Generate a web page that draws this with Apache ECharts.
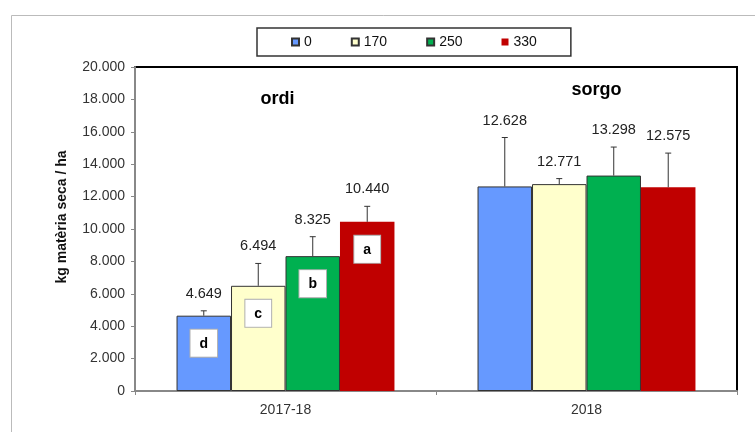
<!DOCTYPE html>
<html>
<head>
<meta charset="utf-8">
<script src="https://cdn.jsdelivr.net/npm/echarts@6/dist/echarts.min.js"></script>
<style>html,body{margin:0;padding:0;background:#fff;}#c{width:755px;height:432px;}</style>
</head>
<body>
<div id="c"></div>
<script>
var categories = ['2017-18', '2018'];
var seriesNames = ['0', '170', '250', '330'];
var values0 = [4649, 12628];
var values170 = [6494, 12771];
var values250 = [8325, 13298];
var values330 = [10440, 12575];
var err0 = [300, 3020];
var err170 = [1380, 340];
var err250 = [1200, 1760];
var err330 = [960, 2110];
var letters0 = ['d', ''];
var letters170 = ['c', ''];
var letters250 = ['b', ''];
var letters330 = ['a', ''];
var cropTitles = ['ordi', 'sorgo'];
var yTicks = [0, 2000, 4000, 6000, 8000, 10000, 12000, 14000, 16000, 18000, 20000];

var colors = ['#6699FF', '#FFFFCC', '#00B050', '#C00000'];
var borders = ['#333', '#333', '#333', 'rgba(0,0,0,0)'];
var allValues = [values0, values170, values250, values330];
var allErr = [err0, err170, err250, err330];
var allLetters = [letters0, letters170, letters250, letters330];
var GAP = 0.276;
var FONT = '"Liberation Sans", Arial, sans-serif';

function fmt(v) {
  return String(v).replace(/\B(?=(\d{3})+(?!\d))/g, '.');
}

var series = [];
for (var i = 0; i < 4; i++) {
  (function (i) {
    series.push({
      name: seriesNames[i],
      type: 'bar',
      barGap: '0%',
      barCategoryGap: (GAP * 100) + '%',
      itemStyle: { color: colors[i], borderColor: borders[i], borderWidth: i === 3 ? 0 : 1 },
      data: allValues[i].map(function (v, k) {
        var L = allLetters[i][k];
        return {
          value: v,
          label: {
            show: !!L,
            position: 'insideTop',
            distance: 14,
            formatter: L,
            backgroundColor: '#fff',
            borderColor: '#b0b0b0',
            borderWidth: 1,
            padding: [7, 9, 6, 9],
            fontFamily: FONT,
            fontWeight: 'bold',
            fontSize: 14,
            color: '#000'
          }
        };
      })
    });
  })(i);
}

var errData = [];
for (var s = 0; s < 4; s++) {
  for (var c = 0; c < categories.length; c++) {
    errData.push([c, s, allValues[s][c], allErr[s][c]]);
  }
}

series.push({
  type: 'custom',
  z: 5,
  silent: true,
  encode: { x: 0, y: 2 },
  data: errData,
  renderItem: function (params, api) {
    var c = api.value(0), s = api.value(1), v = api.value(2), e = api.value(3);
    var band = api.size([1, 0])[0];
    var bw = band * (1 - GAP) / 4;
    var cx = api.coord([c, 0])[0] + (s - 1.5) * bw;
    var y0 = api.coord([c, v])[1];
    var y1 = api.coord([c, v + e])[1];
    var st = { stroke: '#333', lineWidth: 1 };
    return {
      type: 'group',
      children: [
        { type: 'line', shape: { x1: cx, y1: y0, x2: cx, y2: y1 }, style: st },
        { type: 'line', shape: { x1: cx - 3, y1: y1, x2: cx + 3, y2: y1 }, style: st },
        { type: 'text', x: cx, y: y1 - 17, style: { text: fmt(v), fill: '#222', font: '14.5px ' + FONT, align: 'center', verticalAlign: 'middle' } }
      ]
    };
  }
});

var chart = echarts.init(document.getElementById('c'), null, { renderer: 'canvas' });
chart.setOption({
  animation: false,
  backgroundColor: '#fff',
  color: colors,
  legend: {
    data: seriesNames,
    left: 257,
    top: 28,
    icon: 'rect',
    itemWidth: 7,
    itemHeight: 7,
    itemGap: 39,
    padding: [7, 34],
    borderColor: '#333',
    borderWidth: 1.5,
    textStyle: { fontFamily: FONT, fontSize: 14, color: '#111' }
  },
  grid: {
    left: 135, right: 18, top: 67, bottom: 41,
    show: true, borderColor: '#000', borderWidth: 2, backgroundColor: '#fff'
  },
  xAxis: {
    type: 'category',
    data: categories,
    axisLine: { lineStyle: { color: '#888', width: 2 } },
    axisTick: { show: true, length: 4, lineStyle: { color: '#888' } },
    axisLabel: { fontFamily: FONT, fontSize: 14, color: '#333', margin: 12 }
  },
  yAxis: {
    type: 'value',
    min: yTicks[0],
    max: yTicks[yTicks.length - 1],
    interval: yTicks[1] - yTicks[0],
    splitLine: { show: false },
    axisLine: { show: true, lineStyle: { color: '#888', width: 2 } },
    axisTick: { show: true, length: 4, lineStyle: { color: '#888' } },
    axisLabel: { fontFamily: FONT, fontSize: 14, color: '#333', margin: 10, formatter: function (v) { return fmt(v); } }
  },
  series: series
});

var p0 = chart.convertToPixel({ gridIndex: 0 }, [0, 18000]);
var p1 = chart.convertToPixel({ gridIndex: 0 }, [1, 18600]);
chart.setOption({
  graphic: [
    { type: 'rect', left: 9, top: 13, silent: true, z: -10, shape: { width: 900, height: 600 }, style: { fill: 'none', stroke: '#bbb', lineWidth: 1 } },
    { type: 'text', x: 62, y: 217, rotation: Math.PI / 2, style: { text: 'kg matèria seca / ha', font: 'bold 14px ' + FONT, fill: '#111', align: 'center', verticalAlign: 'middle' } },
    { type: 'text', x: p0[0] - 8, y: p0[1], style: { text: cropTitles[0], font: 'bold 18px ' + FONT, fill: '#000', align: 'center', verticalAlign: 'middle' } },
    { type: 'text', x: p1[0] + 10, y: p1[1], style: { text: cropTitles[1], font: 'bold 18px ' + FONT, fill: '#000', align: 'center', verticalAlign: 'middle' } }
  ]
});
</script>
</body>
</html>
